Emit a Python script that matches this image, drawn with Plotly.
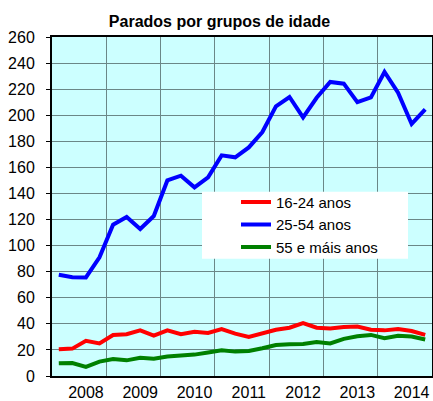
import plotly.graph_objects as go

# Quarterly periods (2007 T3 .. 2014 T2)
periodos = ["2007T3", "2007T4",
            "2008T1", "2008T2", "2008T3", "2008T4",
            "2009T1", "2009T2", "2009T3", "2009T4",
            "2010T1", "2010T2", "2010T3", "2010T4",
            "2011T1", "2011T2", "2011T3", "2011T4",
            "2012T1", "2012T2", "2012T3", "2012T4",
            "2013T1", "2013T2", "2013T3", "2013T4",
            "2014T1", "2014T2"]

idade_16_24 = [20.5, 21, 27, 25, 31.5, 32, 35, 31, 35, 32, 34, 33, 36, 32.5,
               30, 32.5, 35.5, 37, 40.5, 37, 36.5, 37.5, 38, 35.5, 35, 36, 34.5, 31.5]
idade_25_54 = [77.7, 75.8, 75.6, 91, 116, 121.9, 112.7, 122.7, 150, 153.6, 144.7, 152.3,
               169.2, 167.7, 175.3, 187.1, 206.8, 214, 198.4, 213.4, 225.5, 224.2, 210,
               213.7, 233.2, 217.3, 193.3, 204.5]
idade_55_mais = [9.7, 10, 7, 11, 13, 12, 14, 13.3, 15, 15.4, 16.4, 18, 19.7, 18.7,
                 19.2, 21.3, 23.8, 24.4, 24.6, 26, 25, 28.5, 30.5, 31.5, 29, 30.8, 30.3, 28]

nomes = ["16-24 anos", "25-54 anos", "55 e máis anos"]
cores = ["#FF0000", "#0000FF", "#008000"]
y_ticks = list(range(0, 261, 20))

x = list(range(len(periodos)))
tick_pos = [i for i, p in enumerate(periodos) if p.endswith("T1")]
tick_txt = [periodos[i][:4] for i in tick_pos]

fig = go.Figure()
for nome, vals, cor in zip(nomes, [idade_16_24, idade_25_54, idade_55_mais], cores):
    fig.add_trace(go.Scatter(x=x, y=vals, mode="lines", name=nome,
                             line=dict(color=cor, width=4)))

font_family = "Liberation Sans, Arial, sans-serif"
grid_col = "#6b8787"

fig.update_layout(
    width=433, height=401,
    margin=dict(l=52, r=1, t=37, b=25, autoexpand=False),
    paper_bgcolor="white",
    plot_bgcolor="#CCFFFF",
    font=dict(family=font_family, size=16, color="black"),
    title=dict(text="<b>Parados por grupos de idade</b>",
               font=dict(family=font_family, size=16, color="black"),
               xref="container", yref="container",
               x=0.507, y=1 - 21 / 401, xanchor="center", yanchor="middle"),
    xaxis=dict(range=[-0.5, len(periodos) - 0.5],
               tickmode="array", tickvals=tick_pos, ticktext=tick_txt,
               showgrid=False, zeroline=False,
               ticks="outside", ticklen=1, tickcolor="rgba(0,0,0,0)",
               showline=True, linecolor="black", linewidth=2, mirror=True,
               minor=dict(tick0=-0.5, dtick=4, showgrid=True,
                          gridcolor=grid_col, gridwidth=1, ticks=""),
               tickfont=dict(size=16), automargin=False),
    yaxis=dict(range=[0, 260], tickmode="array", tickvals=y_ticks,
               showgrid=True, gridcolor=grid_col, gridwidth=1, zeroline=False,
               ticks="outside", ticklen=4, tickcolor="black", tickwidth=1,
               ticklabelstandoff=8,
               showline=True, linecolor="black", linewidth=2, mirror=True,
               tickfont=dict(size=16), automargin=False),
    legend=dict(x=(236 - 52) / 380, y=(376.3 - 186) / 339,
                xanchor="left", yanchor="top",
                bgcolor="rgba(0,0,0,0)", borderwidth=0,
                font=dict(family=font_family, size=15, color="black"),
                tracegroupgap=0),
    shapes=[dict(type="rect", xref="paper", yref="paper",
                 x0=(202 - 52) / 380, x1=(408 - 52) / 380,
                 y0=(376.3 - 259) / 339, y1=(376.3 - 192) / 339,
                 fillcolor="white", line=dict(width=0), layer="above")],
)

fig.write_html("out.html",
               config={"displayModeBar": False},
               post_script="document.body.style.margin='0';"
                           "document.body.style.overflow='hidden';")
